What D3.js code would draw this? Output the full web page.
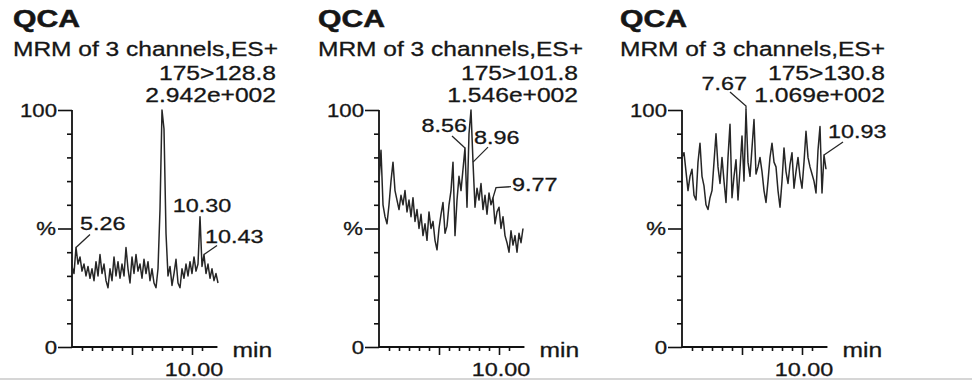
<!DOCTYPE html>
<html>
<head>
<meta charset="utf-8">
<script src="https://cdn.jsdelivr.net/npm/d3@7"></script>
<style>
  html, body { margin: 0; padding: 0; background: #fff; }
  svg { display: block; }
  text { font-family: "Liberation Sans", Arial, Helvetica, sans-serif; fill: #161616; stroke: #161616; stroke-width: 0.3; }
</style>
</head>
<body>
<svg id="chart" width="972" height="381"></svg>
<script>
// one reading every 1/12 min, starting at 5.00 min (% of the largest peak)
const startTime = 5.0;
const scanStep = 1 / 12;

const compound = ["QCA", "QCA", "QCA"];
const scanFunction = "MRM of 3 channels,ES+";
const transitions = ["175>128.8", "175>101.8", "175>130.8"];
const intensities = ["2.942e+002", "1.546e+002", "1.069e+002"];

const trace1 = [
  34, 31, 42, 35, 38, 32, 35, 30, 34, 29,
  33, 28, 36, 30, 39, 31, 35, 28, 25, 33,
  28, 38, 30, 36, 29, 35, 30, 42, 33, 27,
  38, 31, 39, 32, 35, 29, 37, 31, 36, 28,
  33, 27, 25, 33, 58, 100, 92, 48, 30, 34,
  26, 31, 37, 27, 25, 33, 29, 35, 30, 36,
  31, 38, 32, 35, 55, 34, 39, 31, 35, 29,
  33, 28, 31, 27
];
const trace2 = [
  70, 83, 60, 55, 52, 60, 70, 78, 66, 62,
  58, 64, 60, 66, 57, 62, 55, 63, 53, 58,
  50, 56, 47, 52, 45, 57, 50, 53, 45, 41,
  50, 56, 61, 48, 51, 60, 66, 78, 47, 62,
  72, 66, 75, 84, 59, 90, 100, 78, 59, 67,
  62, 69, 58, 64, 56, 65, 60, 63, 52, 57,
  59, 50, 55, 47, 44, 40, 49, 43, 47, 40,
  48, 44, 50
];
const trace3 = [
  80, 82, 74, 66, 72, 75, 64, 62, 78, 86,
  72, 68, 60, 58, 63, 66, 78, 90, 76, 69,
  80, 70, 61, 80, 94, 63, 72, 79, 62, 75,
  89, 70, 100, 78, 72, 84, 96, 73, 76, 80,
  74, 66, 61, 70, 80, 86, 78, 76, 66, 59,
  70, 84, 74, 69, 77, 82, 67, 74, 80, 72,
  67, 78, 91, 80, 76, 73, 70, 65, 83, 93,
  65, 81, 75
];

// retention time labels: where the apex sits (min) and what is printed
const peakTimes1 = [5.17, 10.33, 10.5];
const peakTexts1 = ["5.26", "10.30", "10.43"];
const peakTimes2 = [8.58, 8.92, 9.75];
const peakTexts2 = ["8.56", "8.96", "9.77"];
const peakTimes3 = [7.67, 10.92];
const peakTexts3 = ["7.67", "10.93"];

const yMinorTicks = [10, 20, 30, 40, 60, 70, 80, 90];
const yMajorTicks = [0, 50, 100];
const yTickLabels = ["0", "%", "100"];
const xMajorTicks = [7.5, 10];
const xTickLabels = ["", "10.00"];
const xUnit = "min";

// layout
const axisX = [72, 379, 682];
const headLeft = [13, 318, 620];
const headRight = [276, 578, 885];
const STRETCH = 1.23;

// label placement relative to the apex, in px
const labelLayout = [
  [
    { anchor: "start", dx: 4, dy: -17, leader: [[0, 0], [14, -13]] },
    { anchor: "middle", dx: 2, dy: -5, leader: null },
    { anchor: "start", dx: 1, dy: -12, leader: [[0, 0], [13, -9]] }
  ],
  [
    { anchor: "end", dx: 2, dy: -16, leader: [[0, 0], [-13, -12]] },
    { anchor: "start", dx: 1, dy: -18, leader: [[0, 0], [15, -15]] },
    { anchor: "start", dx: 19, dy: -7, leader: [[0, 0], [3, -10], [18, -11]] }
  ],
  [
    { anchor: "end", dx: 1, dy: -20, leader: [[0, 0], [0, -4], [-16, -18]] },
    { anchor: "start", dx: 4, dy: -17, leader: [[0, 0], [19, -13]] }
  ]
];

const svg = d3.select("#chart");

const x = d3.scaleLinear().domain([5, 11]).range([0, 144]);
const y = d3.scaleLinear().domain([0, 100]).range([347, 110]);
const xEnd = 11.06;
const xMinorTicks = d3.range(1, 14).map(k => 5 + k * 2.5 / 6)
  .filter(t => !xMajorTicks.some(m => Math.abs(m - t) < 1e-6));

// text drawn a bit wider than the font, like the scanned print
function stretchText(g, str, px, py, opt) {
  const t = g.append("text")
    .attr("x", px).attr("y", py)
    .attr("font-size", opt.size)
    .attr("font-weight", opt.weight || "normal")
    .text(str);
  const w = opt.width || t.node().getComputedTextLength() * STRETCH;
  t.attr("textLength", w).attr("lengthAdjust", "spacingAndGlyphs");
  const anchor = opt.anchor || "start";
  const shift = anchor === "end" ? w : anchor === "middle" ? w / 2 : 0;
  t.attr("x", px - shift);
  return t;
}

// faint border line at the bottom of the scan
svg.append("rect").attr("x", 0).attr("y", 378).attr("width", 972).attr("height", 2)
  .attr("fill", "#d6d6d6");

const panels = [
  { trace: trace1, times: peakTimes1, texts: peakTexts1 },
  { trace: trace2, times: peakTimes2, texts: peakTexts2 },
  { trace: trace3, times: peakTimes3, texts: peakTexts3 }
];

const line = d3.line().x(d => x(d[0])).y(d => y(d[1]));

panels.forEach((p, i) => {
  // headings
  stretchText(svg, compound[i], headLeft[i], 27, { size: 23, weight: "bold", width: 67 })
    .style("stroke-width", 0.5);
  stretchText(svg, scanFunction, headLeft[i], 56, { size: 20, width: 265 });
  stretchText(svg, transitions[i], headRight[i], 80, { size: 20, anchor: "end" });
  stretchText(svg, intensities[i], headRight[i], 102, { size: 20, anchor: "end" });

  const g = svg.append("g").attr("transform", `translate(${axisX[i]},0)`);

  // y ticks
  g.append("g")
    .call(d3.axisLeft(y).tickValues(yMinorTicks).tickSize(5).tickFormat(""))
    .call(a => a.select(".domain").remove());
  g.append("g")
    .call(d3.axisLeft(y).tickValues(yMajorTicks).tickSize(14).tickFormat(""))
    .call(a => a.select(".domain").remove());

  // x ticks
  g.append("g").attr("transform", `translate(0,${y(0)})`)
    .call(d3.axisBottom(x).tickValues(xMinorTicks).tickSize(4).tickFormat(""))
    .call(a => a.select(".domain").remove());
  g.append("g").attr("transform", `translate(0,${y(0)})`)
    .call(d3.axisBottom(x).tickValues(xMajorTicks).tickSize(8).tickFormat(""))
    .call(a => a.select(".domain").remove());

  g.selectAll(".tick line").attr("stroke", "#111").attr("stroke-width", 1.6);

  // axis lines
  g.append("path")
    .attr("d", `M0,${y(100)}V${y(0)}H${x(xEnd)}`)
    .attr("fill", "none").attr("stroke", "#111").attr("stroke-width", 1.8);

  // axis labels
  yMajorTicks.forEach((v, k) => {
    const right = v === 50 ? -16 : -15;
    stretchText(g, yTickLabels[k], right, y(v) + 6.5, { size: 18, anchor: "end" });
  });
  xMajorTicks.forEach((v, k) => {
    if (xTickLabels[k]) stretchText(g, xTickLabels[k], x(v) + 2, 376, { size: 19, anchor: "middle" });
  });
  stretchText(g, xUnit, x(xEnd) + 15, y(0) + 10, { size: 20 });

  // trace
  const pts = p.trace.map((v, k) => [startTime + k * scanStep, v]);
  g.append("path").datum(pts)
    .attr("d", line)
    .attr("fill", "none")
    .attr("stroke", "#262626")
    .attr("stroke-width", 1.5)
    .attr("stroke-linejoin", "round");

  // peak labels
  p.times.forEach((t, k) => {
    const idx = Math.round((t - startTime) / scanStep);
    const ax = x(startTime + idx * scanStep);
    const ay = y(p.trace[idx]);
    const lay = labelLayout[i][k];
    if (lay.leader) {
      g.append("path")
        .attr("d", d3.line()(lay.leader.map(q => [ax + q[0], ay + q[1]])))
        .attr("fill", "none").attr("stroke", "#262626").attr("stroke-width", 1.3);
    }
    stretchText(g, p.texts[k], ax + lay.dx, ay + lay.dy, { size: 19, anchor: lay.anchor });
  });
});
</script>
</body>
</html>
